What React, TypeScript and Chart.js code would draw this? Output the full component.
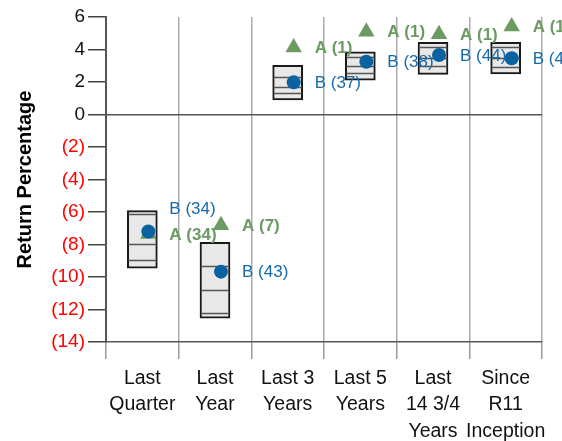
import React, { useEffect, useRef } from 'react';
import { Chart, registerables } from 'chart.js';

Chart.register(...registerables);

// ---- Data ----
const categories: string[][] = [
  ['Last', 'Quarter'],
  ['Last', 'Year'],
  ['Last 3', 'Years'],
  ['Last 5', 'Years'],
  ['Last', '14 3/4', 'Years'],
  ['Since', 'R11', 'Inception'],
];

// Box percentiles (top to bottom)
const p5 = [-5.92, -7.86, 3.03, 3.86, 4.44, 4.44];
const p25 = [-6.12, -9.3, 2.33, 3.56, 4.17, 4.15];
const median = [-7.97, -10.8, 1.71, 3.0, 3.5, 3.45];
const p75 = [-8.95, -12.2, 1.3, 2.54, 2.98, 2.95];
const p95 = [-9.46, -12.54, 0.89, 2.12, 2.47, 2.5];

// Series A (triangle) and B (circle)
const seriesA = [-7.35, -6.81, 4.12, 5.1, 4.94, 5.42];
const seriesB = [-7.2, -9.67, 1.98, 3.25, 3.66, 3.46];
const labelsA = ['A (34)', 'A (7)', 'A (1)', 'A (1)', 'A (1)', 'A (1)'];
const labelsB = ['B (34)', 'B (43)', 'B (37)', 'B (38)', 'B (44)', 'B (44)'];

const yMin = -14;
const yMax = 6;
const yStep = 2;

// ---- Styles ----
const FONT = "'Liberation Sans', Arial, Helvetica, sans-serif";
const GREEN = '#6b9b63';
const BLUE = '#0b62a0';
const BLUE_TEXT = '#1769aa';
const POINT_SHIFT = 6;
const LABEL_GAP = 21;
const labelShiftB = [-23, 0, 0, 0, 0, 0];

const boxPlugin = {
  id: 'boxDetails',
  beforeDatasetDraw(chart: any, args: any) {
    if (args.meta.type === 'line') {
      chart.ctx.save();
      chart.ctx.translate(POINT_SHIFT, 0);
    }
  },
  afterDatasetDraw(chart: any, args: any) {
    const ctx = chart.ctx;
    if (args.meta.type === 'line') {
      ctx.restore();
      return;
    }
    if (args.meta.type !== 'bar') return;
    const ys = chart.scales.y;
    const xs = chart.scales.x;
    args.meta.data.forEach((bar: any, i: number) => {
      const { x, width } = bar.getProps(['x', 'width'], true);
      ctx.save();
      ctx.strokeStyle = '#555';
      ctx.lineWidth = 1.5;
      [p25[i], median[i], p75[i]].forEach((v) => {
        const py = Math.round(ys.getPixelForValue(v)) + 0.5;
        ctx.beginPath();
        ctx.moveTo(x - width / 2 + 1, py);
        ctx.lineTo(x + width / 2 - 1, py);
        ctx.stroke();
      });
      ctx.restore();
    });
    // labels
    ctx.save();
    ctx.textAlign = 'left';
    ctx.textBaseline = 'middle';
    for (let i = 0; i < categories.length; i++) {
      const lx = xs.getPixelForValue(i) + POINT_SHIFT + LABEL_GAP;
      ctx.font = `bold 17px ${FONT}`;
      ctx.fillStyle = GREEN;
      ctx.fillText(labelsA[i], lx, ys.getPixelForValue(seriesA[i]) + 1);
      ctx.font = `17px ${FONT}`;
      ctx.fillStyle = BLUE_TEXT;
      ctx.fillText(labelsB[i], lx, ys.getPixelForValue(seriesB[i]) + 1 + labelShiftB[i]);
    }
    ctx.restore();
  },
};

export default function App() {
  const ref = useRef<HTMLCanvasElement | null>(null);

  useEffect(() => {
    document.body.style.margin = '0';
    if (!ref.current) return;
    const chart = new Chart(ref.current, {
      type: 'bar',
      data: {
        labels: categories as any,
        datasets: [
          {
            type: 'line',
            label: 'B',
            data: seriesB,
            showLine: false,
            pointStyle: 'circle',
            pointRadius: 7,
            pointBackgroundColor: BLUE,
            pointBorderColor: BLUE,
            pointBorderWidth: 0,
            order: 0,
            clip: false as any,
          },
          {
            type: 'line',
            label: 'A',
            data: seriesA,
            showLine: false,
            pointStyle: 'triangle',
            pointRadius: 9.5,
            pointBackgroundColor: GREEN,
            pointBorderColor: GREEN,
            pointBorderWidth: 0,
            order: 1,
            clip: false as any,
          },
          {
            type: 'bar',
            label: 'Range',
            data: categories.map((_, i) => [p95[i], p5[i]]) as any,
            backgroundColor: '#e8e8e8',
            borderColor: '#1a1a1a',
            borderWidth: 2,
            borderSkipped: false,
            barThickness: 30,
            order: 2,
          },
        ] as any,
      },
      options: {
        animation: false,
        responsive: false,
        maintainAspectRatio: false,
        layout: { padding: { top: 17, right: 20, left: 0, bottom: 0 } },
        plugins: {
          legend: { display: false },
          tooltip: { enabled: false },
        },
        scales: {
          x: {
            type: 'category',
            offset: true,
            grid: {
              offset: true,
              color: '#aaaaaa',
              lineWidth: 1.5,
              tickLength: 17,
              tickColor: '#999999',
            },
            border: { color: '#555555', width: 1.5 },
            ticks: {
              autoSkip: false,
              maxRotation: 0,
              minRotation: 0,
              padding: 6,
              color: '#111',
              font: { family: FONT, size: 19.5, lineHeight: 1.36 },
            },
            afterFit: (scale: any) => {
              scale.height = 99;
            },
          },
          y: {
            min: yMin,
            max: yMax,
            ticks: {
              stepSize: yStep,
              padding: 3,
              font: { family: FONT, size: 19 },
              color: (c: any) => (c.tick && c.tick.value < 0 ? '#ff0000' : '#111'),
              callback: (v: any) => (Number(v) < 0 ? `(${-Number(v)})` : `${v}`),
            },
            grid: {
              color: (c: any) => (c.tick && c.tick.value === 0 ? '#555555' : 'rgba(0,0,0,0)'),
              lineWidth: 1.5,
              tickLength: 18,
              tickColor: '#444444',
            },
            border: { color: '#555555', width: 2 },
            title: {
              display: true,
              text: 'Return Percentage',
              color: '#000',
              font: { family: FONT, size: 20, weight: 'bold' },
              padding: { top: 13, bottom: 0 },
            },
            afterFit: (scale: any) => {
              scale.width = 106;
            },
          },
        },
      } as any,
      plugins: [boxPlugin],
    });
    return () => chart.destroy();
  }, []);

  return (
    <div style={{ width: 562, height: 441 }}>
      <canvas ref={ref} width={562} height={441} style={{ display: 'block', width: 562, height: 441 }} />
    </div>
  );
}
